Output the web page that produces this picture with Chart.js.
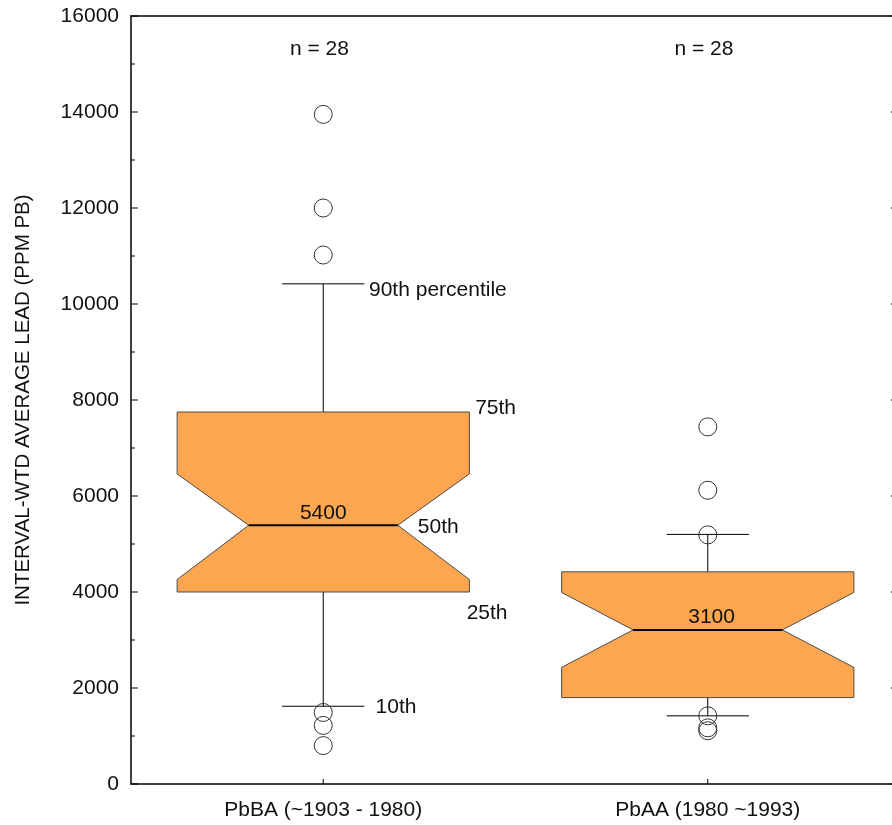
<!DOCTYPE html>
<html>
<head>
<meta charset="utf-8">
<script src="https://cdn.jsdelivr.net/npm/chart.js@4"></script>
<style>
  html, body { margin: 0; padding: 0; background: #fff; overflow: hidden; }
  canvas { display: block; }
</style>
</head>
<body>
<canvas id="chart" width="900" height="825"></canvas>
<script>
const categories = ["PbBA (~1903 - 1980)", "PbAA (1980 ~1993)"];
const q1 = [4000, 1800];
const median = [5390, 3210];
const q3 = [7750, 4420];
const notchLow = [4260, 2430];
const notchHigh = [6460, 3990];
const whiskerLow = [1620, 1420];
const whiskerHigh = [10420, 5200];
const outliers = [
  [13950, 12000, 11020, 1490, 1220, 800],
  [7440, 6120, 5190, 1420, 1170, 1110],
];
const counts = [28, 28];
const medianLabels = ["5400", "3100"];

// text notes: [text, x (category units), y (data units), align]
const notes = [
  ["n = " + counts[0], 0.99, 15300, "center"],
  ["n = " + counts[1], 1.99, 15300, "center"],
  [medianLabels[0], 1.0, 5650, "center"],
  [medianLabels[1], 2.01, 3480, "center"],
  ["90th percentile", 1.119, 10290, "left"],
  ["75th", 1.395, 7830, "left"],
  ["50th", 1.246, 5360, "left"],
  ["25th", 1.373, 3560, "left"],
  ["10th", 1.136, 1610, "left"],
];

const FONT = '"Liberation Sans", Arial, sans-serif';
const BOX_HALF = 0.38;
const NOTCH_HALF = 0.194;
const CAP_HALF = 0.107;

const boxPlugin = {
  id: "notchedBoxes",
  beforeDatasetsDraw(chart) {
    const { ctx, scales: { x, y } } = chart;
    ctx.save();
    categories.forEach((c, i) => {
      const v = i + 1;
      const cx = x.getPixelForValue(v);
      const l = x.getPixelForValue(v - BOX_HALF), r = x.getPixelForValue(v + BOX_HALF);
      const nl = x.getPixelForValue(v - NOTCH_HALF), nr = x.getPixelForValue(v + NOTCH_HALF);
      const cl = x.getPixelForValue(v - CAP_HALF), cr = x.getPixelForValue(v + CAP_HALF);
      const yq1 = y.getPixelForValue(q1[i]), yq3 = y.getPixelForValue(q3[i]);
      const ym = y.getPixelForValue(median[i]);
      const ynl = y.getPixelForValue(notchLow[i]), ynh = y.getPixelForValue(notchHigh[i]);
      const ywl = y.getPixelForValue(whiskerLow[i]), ywh = y.getPixelForValue(whiskerHigh[i]);

      // whiskers
      ctx.strokeStyle = "#000";
      ctx.lineWidth = 1;
      ctx.beginPath();
      ctx.moveTo(cx, yq3); ctx.lineTo(cx, ywh);
      ctx.moveTo(cl, ywh); ctx.lineTo(cr, ywh);
      ctx.moveTo(cx, yq1); ctx.lineTo(cx, ywl);
      ctx.moveTo(cl, ywl); ctx.lineTo(cr, ywl);
      ctx.stroke();

      // notched box
      ctx.beginPath();
      ctx.moveTo(l, yq3);
      ctx.lineTo(r, yq3);
      ctx.lineTo(r, ynh);
      ctx.lineTo(nr, ym);
      ctx.lineTo(r, ynl);
      ctx.lineTo(r, yq1);
      ctx.lineTo(l, yq1);
      ctx.lineTo(l, ynl);
      ctx.lineTo(nl, ym);
      ctx.lineTo(l, ynh);
      ctx.closePath();
      ctx.fillStyle = "#FEA64F";
      ctx.fill();
      ctx.strokeStyle = "#4a4a4a";
      ctx.lineWidth = 1;
      ctx.stroke();

      // median
      ctx.strokeStyle = "#000";
      ctx.lineWidth = 2;
      ctx.beginPath();
      ctx.moveTo(nl, ym); ctx.lineTo(nr, ym);
      ctx.stroke();
    });
    ctx.restore();
  },
  afterDraw(chart) {
    const { ctx, scales: { x, y }, chartArea: a } = chart;
    ctx.save();
    // frame
    ctx.strokeStyle = "#000";
    ctx.lineWidth = 1.5;
    ctx.strokeRect(a.left, a.top, a.right - a.left, a.bottom - a.top);

    // inward y ticks, major and minor
    ctx.lineWidth = 1;
    ctx.beginPath();
    const t = y.ticks.map(k => k.value);
    t.forEach((v, k) => {
      const py = y.getPixelForValue(v);
      ctx.moveTo(a.left, py); ctx.lineTo(a.left + 7, py);
      ctx.moveTo(a.right, py); ctx.lineTo(a.right - 9, py);
      if (k < t.length - 1) {
        const pm = y.getPixelForValue((v + t[k + 1]) / 2);
        ctx.moveTo(a.left, pm); ctx.lineTo(a.left + 4, pm);
        ctx.moveTo(a.right, pm); ctx.lineTo(a.right - 4, pm);
      }
    });
    // small x ticks
    categories.forEach((c, i) => {
      const px = x.getPixelForValue(i + 1);
      ctx.moveTo(px, a.bottom); ctx.lineTo(px, a.bottom - 5);
    });
    ctx.stroke();

    // notes
    ctx.fillStyle = "#111";
    ctx.font = "21px " + FONT;
    ctx.textBaseline = "middle";
    notes.forEach(([txt, vx, vy, align]) => {
      ctx.textAlign = align;
      ctx.fillText(txt, x.getPixelForValue(vx), y.getPixelForValue(vy));
    });
    ctx.restore();
  }
};

new Chart(document.getElementById("chart"), {
  type: "scatter",
  data: {
    datasets: [{
      data: outliers.flatMap((list, i) => list.map(v => ({ x: i + 1, y: v }))),
      pointStyle: "circle",
      pointRadius: 9,
      pointHoverRadius: 9,
      borderColor: "#333",
      borderWidth: 1,
      backgroundColor: "rgba(0,0,0,0)",
    }]
  },
  options: {
    responsive: false,
    animation: false,
    events: [],
    layout: { autoPadding: false, padding: { top: 16, left: 0, right: 0, bottom: 0 } },
    plugins: { legend: { display: false }, tooltip: { enabled: false } },
    scales: {
      x: {
        type: "linear",
        min: 0.5,
        max: 2.5,
        afterBuildTicks: s => { s.ticks = categories.map((c, i) => ({ value: i + 1 })); },
        afterFit: s => { s.height = 41; s.paddingLeft = 0; s.paddingRight = 0; },
        grid: { display: false, drawTicks: false },
        border: { display: false },
        ticks: {
          padding: 14,
          color: "#111",
          font: { family: FONT, size: 21 },
          callback: v => categories[v - 1],
          maxRotation: 0,
        }
      },
      y: {
        min: 0,
        max: 16000,
        afterFit: s => { s.width = 131; s.paddingTop = 0; s.paddingBottom = 0; },
        grid: { display: false, drawTicks: false },
        border: { display: false },
        ticks: {
          stepSize: 2000,
          padding: 12,
          color: "#111",
          font: { family: FONT, size: 21 },
          callback: v => String(v),
        },
        title: {
          display: true,
          text: "INTERVAL-WTD AVERAGE LEAD (PPM PB)",
          color: "#111",
          font: { family: FONT, size: 20.5 },
          padding: { top: 11, bottom: 0 },
        }
      }
    }
  },
  plugins: [boxPlugin]
});
</script>
</body>
</html>
